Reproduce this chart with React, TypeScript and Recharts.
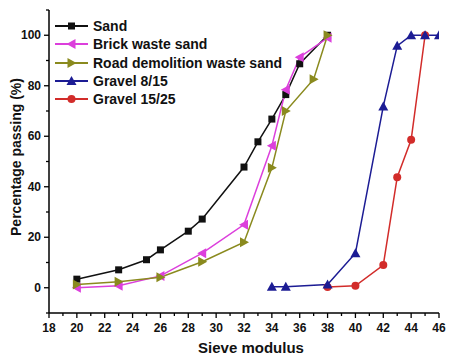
import React from 'react'
import { LineChart, Line, XAxis, YAxis, Legend } from 'recharts'

// sieve sizes and % passing
const sandX = [20, 23, 25, 26, 28, 29, 32, 33, 34, 35, 36, 38]
const sandY = [3.4, 7.1, 11.1, 15, 22.4, 27.2, 47.8, 57.8, 66.8, 76.5, 88.7, 100]

const brickX = [20, 23, 26, 29, 32, 34, 35, 36, 38]
const brickY = [0, 0.8, 4.7, 13.7, 25, 56.2, 78.4, 91.3, 99]

const roadX = [20, 23, 26, 29, 32, 34, 35, 37, 38]
const roadY = [1.3, 2.4, 4.2, 10.3, 18, 47.5, 70, 82.6, 100]

const gravel815X = [34, 35, 38, 40, 42, 43, 44, 45, 46]
const gravel815Y = [0.4, 0.4, 1.3, 13.7, 71.8, 95.8, 100, 100, 100]

const gravel1525X = [38, 40, 42, 43, 44, 45]
const gravel1525Y = [0.3, 0.8, 9, 43.8, 58.6, 100]

const xTicks = Array.from({ length: 29 }, (_, i) => 18 + i)
const yTicks = [-10, 0, 10, 20, 30, 40, 50, 60, 70, 80, 90, 100, 110]

const FONT = '"Liberation Sans", Arial, sans-serif'

type Shape = 'square' | 'left' | 'right' | 'up' | 'circle'

const series: { name: string; xs: number[]; ys: number[]; color: string; shape: Shape }[] = [
  { name: 'Sand', xs: sandX, ys: sandY, color: '#111111', shape: 'square' },
  { name: 'Brick waste sand', xs: brickX, ys: brickY, color: '#dc3fdc', shape: 'left' },
  { name: 'Road demolition waste sand', xs: roadX, ys: roadY, color: '#8a8a1e', shape: 'right' },
  { name: 'Gravel 8/15', xs: gravel815X, ys: gravel815Y, color: '#1c1c94', shape: 'up' },
  { name: 'Gravel 15/25', xs: gravel1525X, ys: gravel1525Y, color: '#d22c2a', shape: 'circle' },
]
// blue gravel markers sit on top of the red ones in the figure
const drawOrder = [0, 1, 2, 4, 3].map(i => series[i])

function Marker({ cx, cy, shape, color }: { cx: number; cy: number; shape: Shape; color: string }) {
  if (shape === 'square')
    return <rect x={cx - 3.5} y={cy - 3.5} width={7} height={7} fill={color} />
  if (shape === 'circle') return <circle cx={cx} cy={cy} r={4} fill={color} />
  let pts = ''
  if (shape === 'up') pts = `${cx},${cy - 5} ${cx - 5},${cy + 4} ${cx + 5},${cy + 4}`
  if (shape === 'left') pts = `${cx - 5},${cy} ${cx + 4},${cy - 5} ${cx + 4},${cy + 5}`
  if (shape === 'right') pts = `${cx + 5},${cy} ${cx - 4},${cy - 5} ${cx - 4},${cy + 5}`
  return <polygon points={pts} fill={color} />
}

const XTick = ({ x, y, payload }: any) => {
  const v = payload.value
  const major = v % 2 === 0
  return (
    <g>
      <line x1={x} x2={x} y1={y} y2={y + (major ? 5 : 3)} stroke="#000" strokeWidth={1.3} />
      {major && (
        <text x={x} y={y + 19} textAnchor="middle" fontSize={12} fontWeight="bold"
              fontFamily={FONT} fill="#111">{v}</text>
      )}
    </g>
  )
}

const YTick = ({ x, y, payload }: any) => {
  const v = payload.value
  const major = v % 20 === 0
  return (
    <g>
      <line x1={x} x2={x - (major ? 5 : 3)} y1={y} y2={y} stroke="#000" strokeWidth={1.3} />
      {major && (
        <text x={x - 8} y={y + 4} textAnchor="end" fontSize={12} fontWeight="bold"
              fontFamily={FONT} fill="#111">{v}</text>
      )}
    </g>
  )
}

const renderLegend = () => (
  <div style={{ fontFamily: FONT }}>
    {series.map(s => (
      <div key={s.name} style={{ display: 'flex', alignItems: 'center', height: 18.3 }}>
        <svg width={36} height={12} style={{ marginRight: 3 }}>
          <line x1={1} x2={34} y1={6} y2={6} stroke={s.color} strokeWidth={1.8} />
          <Marker cx={17.5} cy={6} shape={s.shape} color={s.color} />
        </svg>
        <span style={{ fontSize: 14, fontWeight: 'bold', color: '#111', whiteSpace: 'nowrap' }}>
          {s.name}
        </span>
      </div>
    ))}
  </div>
)

export default function App() {
  return (
    <div style={{ width: 450, height: 356, background: '#fff' }}>
      <style>{'body{margin:0}'}</style>
      <LineChart width={450} height={356} margin={{ top: 10, right: 11, left: 0, bottom: 0 }}>
        <XAxis type="number" dataKey="x" domain={[18, 46]} ticks={xTicks} interval={0}
               tickSize={0} tickMargin={0} tickLine={false} tick={<XTick />}
               axisLine={{ stroke: '#000', strokeWidth: 1.5 }} height={43}
               allowDataOverflow
               label={{ value: 'Sieve modulus', position: 'insideBottom', offset: 3, dx: 7,
                        style: { fontSize: 15, fontWeight: 'bold', fontFamily: FONT, fill: '#111' } }} />
        <YAxis type="number" domain={[-10, 110]} ticks={yTicks} interval={0} width={49}
               tickSize={0} tickMargin={0} tickLine={false} tick={<YTick />}
               axisLine={{ stroke: '#000', strokeWidth: 1.5 }}
               label={{ content: () => (
                 <text transform="translate(21,157) rotate(-90)" textAnchor="middle"
                       fontSize={14} fontWeight="bold" fontFamily={FONT} fill="#111">
                   Percentage passing (%)
                 </text>
               ) }} />
        <Legend layout="vertical" align="center" verticalAlign="middle"
                content={renderLegend}
                wrapperStyle={{ left: 54, top: 17, width: 230, height: 'auto' }} />
        {drawOrder.map(s => (
          <Line key={s.name} name={s.name} type="linear" dataKey="y"
                data={s.xs.map((x, i) => ({ x, y: s.ys[i] }))}
                stroke={s.color} strokeWidth={1.5} isAnimationActive={false}
                dot={(p: any) => (
                  <Marker key={`${s.name}-${p.index}`} cx={p.cx} cy={p.cy}
                          shape={s.shape} color={s.color} />
                )} />
        ))}
      </LineChart>
    </div>
  )
}
